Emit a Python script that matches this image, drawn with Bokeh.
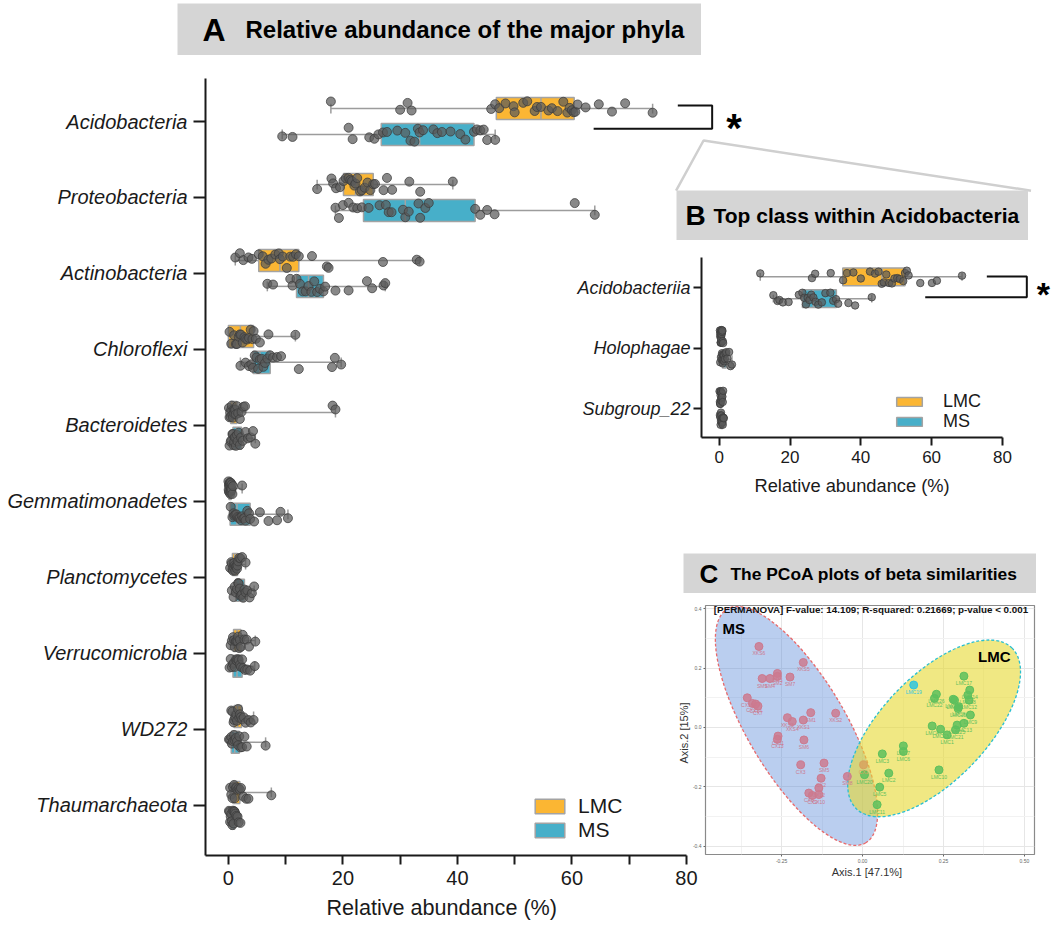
from bokeh.plotting import figure
from bokeh.models import (Range1d, FixedTicker, ColumnDataSource, Legend, LegendItem,
                          GridBox, PrintfTickFormatter, Title)
from bokeh.transform import jitter, factor_cmap
from bokeh.core.properties import value
from bokeh.embed import file_html
from bokeh.resources import INLINE

FONT = "Liberation Sans"
LMC_COLOR = "#FBB633"
MS_COLOR = "#47AFC9"
BOX_LINE = "#a3a3a3"
WHISKER = "#9c9c9c"
PT_FILL = "#5a5a5a"
PT_LINE = "#3c3c3c"
GRAY_BOX = "#d5d5d5"
INK = "#1a1a1a"

# ---------------- Panel A : relative abundance of the major phyla ----------------
phyla = ["Acidobacteria", "Proteobacteria", "Actinobacteria", "Chloroflexi", "Bacteroidetes",
         "Gemmatimonadetes", "Planctomycetes", "Verrucomicrobia", "WD272", "Thaumarchaeota"]

acidobacteria_lmc = [17.9, 30.0, 31.3, 32.0, 45.9, 46.6, 47.3, 48.4, 49.8, 50.0, 51.5, 52.2, 53.5, 53.9, 54.6,
                     55.9, 56.5, 57.5, 58.5, 59.2, 59.6, 60.0, 60.3, 60.6, 61.0, 62.4, 64.7, 67.0, 69.3, 74.1]
acidobacteria_ms = [9.4, 11.2, 21.0, 21.7, 24.6, 25.5, 26.2, 27.0, 27.7, 29.5, 30.9, 31.8, 32.5, 33.1, 33.4,
                    34.0, 35.8, 36.5, 37.3, 38.8, 40.5, 41.4, 42.9, 43.4, 44.0, 44.6, 45.2, 46.6]
proteobacteria_lmc = [15.5, 18.0, 18.3, 18.8, 19.5, 20.1, 20.5, 21.0, 21.3, 21.6, 22.0, 22.2, 22.5, 23.0, 23.3,
                      23.8, 24.3, 24.8, 25.3, 25.6, 27.1, 27.7, 28.6, 31.6, 33.5, 39.2]
proteobacteria_ms = [18.7, 19.3, 20.0, 21.0, 21.8, 22.5, 23.3, 24.5, 26.4, 27.5, 28.0, 28.5, 30.5, 30.9, 31.5,
                     33.2, 33.5, 34.4, 35.0, 43.1, 44.0, 45.2, 46.5, 60.5, 64.0]
actinobacteria_lmc = [1.2, 2.0, 2.6, 3.5, 4.1, 5.3, 6.0, 6.5, 7.0, 7.5, 8.2, 8.8, 9.0, 9.5, 10.2, 10.8, 11.3,
                      11.8, 12.3, 14.6, 17.2, 17.5, 27.0, 32.9, 33.4]
actinobacteria_ms = [6.8, 7.8, 10.8, 11.2, 11.9, 12.5, 13.0, 13.5, 14.0, 14.5, 15.0, 15.5, 16.0, 16.6, 16.9,
                     18.7, 21.0, 24.2, 25.1, 27.1, 27.4]
chloroflexi_lmc = [0.2, 0.5, 1.0, 1.3, 1.5, 1.8, 2.0, 2.2, 2.5, 2.8, 3.0, 3.3, 3.6, 3.9, 4.2, 4.4, 4.8, 5.5,
                   7.0, 11.7]
chloroflexi_ms = [2.1, 3.0, 3.6, 4.0, 4.3, 4.6, 4.9, 5.2, 5.5, 5.8, 6.1, 6.4, 6.8, 7.3, 7.8, 8.5, 9.2, 12.3,
                  18.1, 18.6, 19.7]
bacteroidetes_lmc = [0.1, 0.2, 0.3, 0.4, 0.5, 0.6, 0.7, 0.8, 0.9, 1.0, 1.1, 1.2, 1.3, 1.5, 1.7, 2.0, 2.3, 2.6,
                     2.9, 18.2, 18.7]
bacteroidetes_ms = [0.2, 0.4, 0.5, 0.7, 0.8, 0.9, 1.0, 1.1, 1.2, 1.3, 1.5, 1.6, 1.8, 2.0, 2.2, 2.5, 3.0, 3.4,
                    3.9, 4.3, 4.7]
gemmatimonadetes_lmc = [0.0, 0.05, 0.1, 0.1, 0.15, 0.2, 0.2, 0.25, 0.3, 0.3, 0.35, 0.4, 0.4, 0.45, 0.5, 0.55,
                        0.6, 0.7, 0.8, 2.4]
gemmatimonadetes_ms = [0.4, 0.7, 0.9, 1.0, 1.2, 1.4, 1.6, 1.8, 2.0, 2.2, 2.4, 2.6, 2.8, 3.0, 3.3, 3.6, 3.8,
                       4.5, 5.5, 7.0, 8.5, 9.1, 10.4]
planctomycetes_lmc = [0.3, 0.5, 0.6, 0.7, 0.8, 0.9, 1.0, 1.1, 1.2, 1.3, 1.4, 1.5, 1.6, 1.7, 1.9, 2.1, 2.4, 3.0]
planctomycetes_ms = [0.6, 0.9, 1.1, 1.3, 1.5, 1.7, 1.8, 2.0, 2.1, 2.2, 2.4, 2.6, 2.8, 3.0, 3.3, 3.7, 4.1, 4.5]
verrucomicrobia_lmc = [0.4, 0.6, 0.8, 1.0, 1.1, 1.3, 1.4, 1.6, 1.7, 1.9, 2.0, 2.2, 2.5, 2.8, 3.2, 3.6, 4.7]
verrucomicrobia_ms = [0.2, 0.4, 0.6, 0.8, 1.0, 1.1, 1.3, 1.5, 1.6, 1.8, 2.0, 2.2, 2.4, 2.6, 2.9, 3.3, 3.8, 4.6]
wd272_lmc = [0.5, 0.7, 0.9, 1.0, 1.2, 1.4, 1.5, 1.7, 1.9, 2.0, 2.2, 2.4, 2.7, 3.0, 3.5, 3.9, 4.4]
wd272_ms = [0.1, 0.3, 0.5, 0.6, 0.8, 1.0, 1.1, 1.3, 1.5, 1.7, 1.9, 2.1, 2.4, 2.8, 3.2, 6.5]
thaumarchaeota_lmc = [0.3, 0.5, 0.7, 0.8, 1.0, 1.1, 1.3, 1.4, 1.6, 1.8, 2.0, 2.2, 2.6, 3.1, 3.5, 7.5]
thaumarchaeota_ms = [0.1, 0.2, 0.3, 0.4, 0.5, 0.6, 0.7, 0.8, 0.9, 1.0, 1.1, 1.2, 1.4, 1.6, 1.8, 2.1]

phyla_lmc_values = [acidobacteria_lmc, proteobacteria_lmc, actinobacteria_lmc, chloroflexi_lmc,
                    bacteroidetes_lmc, gemmatimonadetes_lmc, planctomycetes_lmc, verrucomicrobia_lmc,
                    wd272_lmc, thaumarchaeota_lmc]
phyla_ms_values = [acidobacteria_ms, proteobacteria_ms, actinobacteria_ms, chloroflexi_ms,
                   bacteroidetes_ms, gemmatimonadetes_ms, planctomycetes_ms, verrucomicrobia_ms,
                   wd272_ms, thaumarchaeota_ms]

phyla_lmc_q1 = [46.8, 20.1, 5.3, 0.0, 0.4, 0.1, 0.7, 0.9, 1.0, 0.8]
phyla_lmc_median = [54.6, 22.2, 9.0, 2.1, 0.8, 0.3, 1.1, 1.5, 1.6, 1.2]
phyla_lmc_q3 = [60.4, 25.3, 12.3, 4.4, 1.5, 0.5, 1.6, 2.2, 2.3, 2.0]
phyla_ms_q1 = [26.7, 23.6, 11.9, 4.3, 0.8, 0.3, 1.3, 0.8, 0.5, 0.4]
phyla_ms_median = [33.4, 30.9, 14.0, 5.5, 1.4, 1.5, 2.0, 1.5, 1.1, 0.7]
phyla_ms_q3 = [42.9, 43.1, 16.6, 7.3, 2.3, 3.8, 2.8, 2.4, 1.9, 1.1]

# ---------------- Panel B : top classes within Acidobacteria ----------------
classes = ["Acidobacteriia", "Holophagae", "Subgroup_22"]
acidobacteriia_lmc = [11.6, 26.2, 27.1, 31.5, 35.0, 36.1, 37.9, 40.0, 42.6, 44.0, 45.0, 45.9, 46.5, 47.2, 48.0,
                      48.8, 49.5, 50.3, 51.0, 52.0, 52.5, 53.0, 53.5, 56.8, 60.1, 61.5, 68.6]
acidobacteriia_ms = [15.3, 16.5, 17.0, 18.0, 19.6, 22.5, 23.5, 24.0, 24.5, 25.0, 25.5, 26.0, 26.6, 27.2, 28.0,
                     29.0, 30.0, 31.4, 32.2, 33.0, 33.6, 36.5, 38.4, 43.1]
holophagae_lmc = [0.2, 0.3, 0.3, 0.4, 0.4, 0.5, 0.5, 0.5, 0.6, 0.6, 0.7, 0.7, 0.8, 0.8, 0.9, 1.0, 1.1]
holophagae_ms = [0.3, 0.5, 0.7, 0.8, 0.9, 1.0, 1.1, 1.2, 1.3, 1.4, 1.6, 1.8, 2.0, 2.3, 2.8, 3.2, 3.6]
subgroup22_lmc = [0.1, 0.2, 0.3, 0.3, 0.4, 0.4, 0.5, 0.5, 0.6, 0.6, 0.7, 0.8, 0.9, 1.0, 1.1]
subgroup22_ms = [0.2, 0.3, 0.4, 0.5, 0.5, 0.6, 0.7, 0.7, 0.8, 0.9, 1.0, 1.1, 1.2, 1.3]

class_lmc_values = [acidobacteriia_lmc, holophagae_lmc, subgroup22_lmc]
class_ms_values = [acidobacteriia_ms, holophagae_ms, subgroup22_ms]
class_lmc_q1 = [34.9, 0.4, 0.3]
class_lmc_median = [46.0, 0.6, 0.5]
class_lmc_q3 = [52.5, 0.8, 0.7]
class_ms_q1 = [23.5, 0.9, 0.5]
class_ms_median = [26.6, 1.3, 0.7]
class_ms_q3 = [33.1, 2.0, 1.0]

# ---------------- Panel C : PCoA ----------------
pcoa_sample = ["XKS6", "XKS5", "SM3", "SM4", "SM2", "SM9", "SM7", "CX16", "CX15", "CX14", "CX7", "XKS3", "XKS4",
               "SM1", "XKS1", "XKS2", "CX11", "CX13", "SM6", "CX3", "SM5", "CX2", "CX12", "CX8", "CX9", "CX10",
               "SM8", "CX1",
               "LMC17", "LMC19", "LMC26", "LMC22", "LMC24", "LMC16", "LMC14", "LMC18", "LMC12", "LMC8", "LMC9",
               "LMC15", "LMC4", "LMC23", "LMC1", "LMC25", "LMC13", "LMC21", "LMC7", "LMC3", "LMC6", "LMC2",
               "LMC5", "LMC11", "LMC10", "LMC20"]
pcoa_axis1 = [-0.320, -0.183, -0.263, -0.286, -0.263, -0.310, -0.224, -0.356, -0.340, -0.330, -0.323, -0.232,
              -0.217, -0.160, -0.183, -0.083, -0.261, -0.263, -0.181, -0.191, -0.119, -0.128, -0.135, -0.166,
              -0.155, -0.135, -0.047, 0.003,
              0.313, 0.158, 0.228, 0.222, 0.280, 0.284, 0.331, 0.325, 0.329, 0.297, 0.333, 0.295, 0.215, 0.241,
              0.261, 0.292, 0.313, 0.287, 0.126, 0.061, 0.126, 0.081, 0.053, 0.045, 0.236, 0.006]
pcoa_axis2 = [0.273, 0.219, 0.182, 0.165, 0.172, 0.165, 0.170, 0.100, 0.081, 0.079, 0.072, 0.033, 0.020, 0.050,
              0.025, 0.048, -0.029, -0.040, -0.042, -0.126, -0.120, -0.171, -0.204, -0.221, -0.229, -0.226,
              -0.165, -0.126,
              0.173, 0.143, 0.112, 0.098, 0.095, 0.092, 0.126, 0.109, 0.092, 0.070, 0.042, 0.064, 0.005, -0.006,
              -0.025, 0.008, 0.014, -0.008, -0.062, -0.089, -0.081, -0.154, -0.201, -0.260, -0.143, -0.159]
pcoa_group = ["MS", "MS", "MS", "MS", "MS", "MS", "MS", "MS", "MS", "MS", "MS", "MS", "MS", "MS", "MS", "MS",
              "MS", "MS", "MS", "MS", "MS", "MS", "MS", "MS", "MS", "MS", "MS", "MS-b",
              "LMC", "LMC-b", "LMC", "LMC", "LMC", "LMC", "LMC", "LMC", "LMC", "LMC", "LMC", "LMC", "LMC", "LMC",
              "LMC", "LMC", "LMC", "LMC", "LMC", "LMC", "LMC", "LMC", "LMC", "LMC", "LMC", "LMC"]
# confidence ellipses (MS, LMC): centre x, centre y, major, minor, angle (deg)
ellipse_x = [-0.204, 0.221]
ellipse_y = [0.005, -0.003]
ellipse_width = [0.839, 0.691]
ellipse_height = [0.33, 0.354]
ellipse_angle = [-59.3, 46.0]
permanova_text = "[PERMANOVA] F-value: 14.109; R-squared: 0.21669; p-value < 0.001"


def draw_group(p, values, q1, med, q3, offset, color, box_h, cap_h, jit, psize):
    pos = [i + offset for i in range(len(values))]
    src = ColumnDataSource(dict(
        y=pos, lo=[min(v) for v in values], hi=[max(v) for v in values], q1=q1, med=med, q3=q3,
        yb0=[y - box_h / 2 for y in pos], yb1=[y + box_h / 2 for y in pos],
        yc0=[y - cap_h / 2 for y in pos], yc1=[y + cap_h / 2 for y in pos]))
    kw = dict(source=src, line_color=WHISKER, line_width=1.5)
    p.segment(x0="lo", y0="y", x1="q1", y1="y", **kw)
    p.segment(x0="q3", y0="y", x1="hi", y1="y", **kw)
    p.segment(x0="lo", y0="yc0", x1="lo", y1="yc1", **kw)
    p.segment(x0="hi", y0="yc0", x1="hi", y1="yc1", **kw)
    box = p.hbar(y="y", left="q1", right="q3", height=box_h, source=src, fill_color=color,
                 line_color=BOX_LINE, line_width=1.5)
    p.segment(x0="med", y0="yb0", x1="med", y1="yb1", source=src, line_color=BOX_LINE, line_width=1.5)
    px, py = [], []
    for i, v in enumerate(values):
        px.extend(v)
        py.extend([pos[i]] * len(v))
    p.scatter(x="x", y=jitter("y", width=jit, distribution="uniform"),
              source=ColumnDataSource(dict(x=px, y=py)), size=psize,
              fill_color=PT_FILL, fill_alpha=0.72, line_color=PT_LINE, line_alpha=0.75, line_width=1)
    return box


def style_axis(ax, tick_size, tick_len):
    ax.axis_line_color = INK
    ax.axis_line_width = 2
    ax.major_tick_line_color = INK
    ax.major_tick_line_width = 2
    ax.major_tick_out = tick_len
    ax.major_tick_in = 0
    ax.minor_tick_line_color = INK
    ax.minor_tick_line_width = 2
    ax.minor_tick_out = tick_len
    ax.minor_tick_in = 0
    ax.major_label_text_font = FONT
    ax.major_label_text_font_size = tick_size
    ax.major_label_text_color = INK


def axis_title(text, offset, size, standoff):
    # axis title placed under the bounded (visible) part of the x axis
    return Title(text=text, align="left", offset=offset, standoff=standoff, text_font=FONT,
                 text_font_size=size, text_font_style="normal", text_color=INK)


def one_item_legend(label, renderer, loc, font_size, gw, gh, standoff):
    return Legend(items=[LegendItem(label=label, renderers=[renderer])], location=loc,
                  border_line_color=None, background_fill_alpha=0, label_text_font=FONT,
                  label_text_font_size=font_size, label_text_color=INK, glyph_width=gw, glyph_height=gh,
                  spacing=0, padding=0, margin=0, label_standoff=standoff, label_height=gh)


def title_box(w, h, letter, text, letter_size, text_size, letter_x, text_x, margin):
    t = figure(width=w, height=h, x_range=Range1d(0, w), y_range=Range1d(0, h), x_axis_type=None,
               y_axis_type=None, output_backend="svg", toolbar_location=None, title=None, min_border=0,
               margin=margin, frame_align=False)
    t.grid.visible = False
    t.outline_line_color = None
    t.background_fill_color = GRAY_BOX
    t.border_fill_color = None
    t.text(x=[letter_x], y=[h / 2], text=[letter], text_font=value(FONT), text_font_style="bold",
           text_font_size=letter_size, text_baseline="middle", text_align="left", text_color="#000000")
    t.text(x=[text_x], y=[h / 2], text=[text], text_font=value(FONT), text_font_style="bold",
           text_font_size=text_size, text_baseline="middle", text_align="left", text_color="#000000")
    return t


# ======================= Figure A =======================
pA = figure(width=1055, height=931, x_range=Range1d(-4, 143.6), y_range=Range1d(9.66, -0.566),
            output_backend="svg", toolbar_location=None, title=None, frame_align=False,
            min_border_left=205, min_border_right=5, min_border_top=78, min_border_bottom=76)
pA.grid.visible = False
pA.outline_line_color = None

boxA_lmc = draw_group(pA, phyla_lmc_values, phyla_lmc_q1, phyla_lmc_median, phyla_lmc_q3,
                      -0.17, LMC_COLOR, 0.29, 0.13, 0.2, 9)
boxA_ms = draw_group(pA, phyla_ms_values, phyla_ms_q1, phyla_ms_median, phyla_ms_q3,
                     0.17, MS_COLOR, 0.29, 0.13, 0.2, 9)

xa = pA.xaxis[0]
xa.bounds = (-4, 80)
xa.ticker = FixedTicker(ticks=[0, 20, 40, 60, 80], minor_ticks=[10, 30, 50, 70])
style_axis(xa, "20px", 9)
xa.major_label_standoff = 6
ya = pA.yaxis[0]
ya.ticker = FixedTicker(ticks=list(range(len(phyla))))
ya.major_label_overrides = {i: name for i, name in enumerate(phyla)}
style_axis(ya, "20px", 12)
ya.major_label_text_font_style = "italic"
ya.major_label_standoff = 6
pA.add_layout(axis_title("Relative abundance (%)", 121, "21.6px", 10), "below")

# significance bracket and zoom lines
pA.line(x=[78.5, 84.5, 84.5, 63.8], y=[-0.21, -0.21, 0.096, 0.096], line_color="#111111", line_width=2)
pA.text(x=[88.3], y=[0.08], text=["*"], text_font=value(FONT), text_font_style="bold",
        text_font_size="40px", text_align="center", text_baseline="alphabetic", text_color="#000000")
pA.line(x=[78.2, 83.0, 140.2], y=[0.91, 0.25, 0.91], line_color="#cfcfcf", line_width=2.5)

pA.add_layout(one_item_legend("LMC", boxA_lmc, (326, 37), "21px", 37, 18, 10))
pA.add_layout(one_item_legend("MS", boxA_ms, (326, 13), "21px", 37, 18, 10))

# ======================= Figure B =======================
pB = figure(width=491, height=263, x_range=Range1d(-5, 93.87), y_range=Range1d(2.475, -0.5),
            output_backend="svg", toolbar_location=None, title=None, margin=(246, 0, 0, 560),
            frame_align=False,
            min_border_left=141, min_border_right=0, min_border_top=11, min_border_bottom=72)
pB.grid.visible = False
pB.outline_line_color = None
pB.background_fill_color = None
pB.border_fill_color = None

boxB_lmc = draw_group(pB, class_lmc_values, class_lmc_q1, class_lmc_median, class_lmc_q3,
                      -0.18, LMC_COLOR, 0.29, 0.13, 0.24, 7.5)
boxB_ms = draw_group(pB, class_ms_values, class_ms_q1, class_ms_median, class_ms_q3,
                     0.18, MS_COLOR, 0.29, 0.13, 0.24, 7.5)
xb = pB.xaxis[0]
xb.bounds = (-5, 80)
xb.ticker = FixedTicker(ticks=[0, 20, 40, 60, 80], minor_ticks=[10, 30, 50, 70])
style_axis(xb, "17px", 8)
xb.minor_tick_out = 0
xb.major_label_standoff = 5
yb = pB.yaxis[0]
yb.ticker = FixedTicker(ticks=list(range(len(classes))))
yb.major_label_overrides = {i: name for i, name in enumerate(classes)}
style_axis(yb, "18px", 8)
yb.major_label_text_font_style = "italic"
yb.major_label_standoff = 3
pB.add_layout(axis_title("Relative abundance (%)", 53, "18.3px", 15), "below")

pB.line(x=[75.6, 86.9, 86.9, 58.2], y=[-0.187, -0.187, 0.155, 0.155], line_color="#111111", line_width=2)
pB.text(x=[91.6], y=[0.11], text=["*"], text_font=value(FONT), text_font_style="bold",
        text_font_size="34px", text_align="center", text_baseline="alphabetic", text_color="#000000")
pB.add_layout(one_item_legend("LMC", boxB_lmc, (192, 25), "18px", 32, 11, 18))
pB.add_layout(one_item_legend("MS", boxB_ms, (192, 5), "18px", 32, 11, 18))

# ======================= Figure C =======================
pC = figure(width=370, height=280, x_range=Range1d(-0.485, 0.531), y_range=Range1d(-0.428, 0.411),
            output_backend="svg", toolbar_location=None, title=None, margin=(600, 0, 0, 670),
            frame_align=False,
            min_border_left=35, min_border_right=6, min_border_top=5, min_border_bottom=25)
pC.background_fill_color = "white"
pC.border_fill_color = None
pC.outline_line_color = "#8a8a8a"
pC.outline_line_width = 1.2
pC.xaxis.ticker = FixedTicker(ticks=[-0.25, 0, 0.25, 0.5], minor_ticks=[-0.375, -0.125, 0.125, 0.375])
pC.yaxis.ticker = FixedTicker(ticks=[-0.4, -0.2, 0, 0.2, 0.4], minor_ticks=[-0.3, -0.1, 0.1, 0.3])
pC.xaxis.formatter = PrintfTickFormatter(format="%.2f")
pC.yaxis.formatter = PrintfTickFormatter(format="%.1f")
for ax in pC.axis:
    ax.axis_line_color = None
    ax.major_tick_out = 2
    ax.major_tick_in = 0
    ax.minor_tick_out = 0
    ax.major_tick_line_color = "#666666"
    ax.major_label_text_font = FONT
    ax.major_label_text_font_size = "5px"
    ax.major_label_text_color = "#666666"
    ax.major_label_standoff = 2
    ax.axis_label_text_font = FONT
    ax.axis_label_text_font_size = "11px"
    ax.axis_label_text_font_style = "normal"
    ax.axis_label_text_color = "#333333"
    ax.axis_label_standoff = 0
pC.xaxis.axis_label = "Axis.1   [47.1%]"
pC.yaxis.axis_label = "Axis.2   [15%]"
pC.grid.grid_line_color = "#e6e6e6"
pC.grid.minor_grid_line_color = "#f2f2f2"

pC.ellipse(x=[ellipse_x[0]], y=[ellipse_y[0]], width=[ellipse_width[0]], height=[ellipse_height[0]],
           angle=[ellipse_angle[0]], angle_units="deg", fill_color="#5B8BD9", fill_alpha=0.42,
           line_color="#E8696B", line_dash="3 2", line_width=1.3)
pC.ellipse(x=[ellipse_x[1]], y=[ellipse_y[1]], width=[ellipse_width[1]], height=[ellipse_height[1]],
           angle=[ellipse_angle[1]], angle_units="deg", fill_color="#E6D830", fill_alpha=0.6,
           line_color="#2BBFD0", line_dash="3 2", line_width=1.3)

psrc = ColumnDataSource(dict(x=pcoa_axis1, y=pcoa_axis2, name=pcoa_sample, g=pcoa_group))
pcoa_cmap = factor_cmap("g", ["#CC7A8F", "#D8A25E", "#5DC05D", "#2FC4E0"], ["MS", "MS-b", "LMC", "LMC-b"])
pC.scatter(x="x", y="y", source=psrc, size=8, fill_color=pcoa_cmap, line_color=pcoa_cmap, fill_alpha=0.85)
pC.text(x="x", y="y", text="name", source=psrc, text_color=pcoa_cmap, text_font=value(FONT),
        text_font_size="5px", text_align="center", text_baseline="top", y_offset=4)
pC.text(x=[0.026], y=[0.398], text=[permanova_text], text_font=value(FONT), text_font_style="bold",
        text_font_size="9.8px", text_align="center", text_baseline="middle", text_color="#111111")
pC.text(x=[-0.398, 0.407], y=[0.334, 0.240], text=["MS", "LMC"], text_font=value(FONT),
        text_font_style="bold", text_font_size="15px", text_align="center", text_baseline="middle",
        text_color="#000000")

# ======================= title boxes =======================
tA = title_box(524, 52, "A", "Relative abundance of the major phyla", "32px", "24px", 25, 68, (3, 0, 0, 177))
tB = title_box(352, 50, "B", "Top class within Acidobacteria", "28px", "21px", 9, 37, (190, 0, 0, 676))
tC = title_box(353, 40, "C", "The PCoA plots of beta similarities", "26px", "17.4px", 16, 47, (553, 0, 0, 683))

# all panels share one grid cell and are offset by their margins (inset panels overlap panel A)
page = GridBox(children=[(pA, 0, 0), (tA, 0, 0), (tB, 0, 0), (pB, 0, 0), (tC, 0, 0), (pC, 0, 0)], spacing=0)

open("out.html", "w").write(file_html(page, INLINE))
